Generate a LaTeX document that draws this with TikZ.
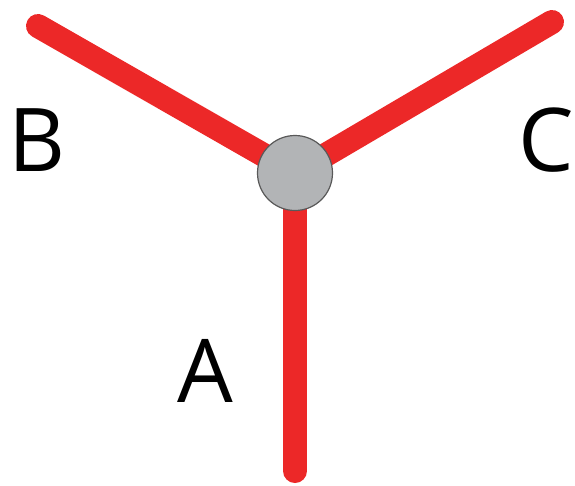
\documentclass[tikz,border=0pt]{standalone}
\usepackage{fontspec}
\setmainfont{Open Sans}
\begin{document}
\begin{tikzpicture}[x=1pt,y=-1pt,
  arm/.style={draw=armred,line width=24pt,line cap=round},
  hub/.style={circle,draw=gray!70!black,fill=hubgray,line width=1.2pt,minimum size=75pt,inner sep=0pt},
  lab/.style={font=\fontsize{88}{90}\selectfont,inner sep=0pt}]
\definecolor{armred}{RGB}{236,40,40}
\definecolor{hubgray}{RGB}{178,180,182}
\useasboundingbox (0,0) rectangle (575,485);
\coordinate (ea) at (295,471);
\coordinate (eb) at (38,26);
\coordinate (ec) at (552,22);
\coordinate (c) at (295,173);
\draw[arm] (c) -- (ea);
\draw[arm] (c) -- (eb);
\draw[arm] (c) -- (ec);
\node[hub] (h) at (c) {};
\node[lab] (B) at (37,140) {B};
\node[lab] (C) at (546,140) {C};
\node[lab] (A) at (205,371) {A};
\end{tikzpicture}
\end{document}
